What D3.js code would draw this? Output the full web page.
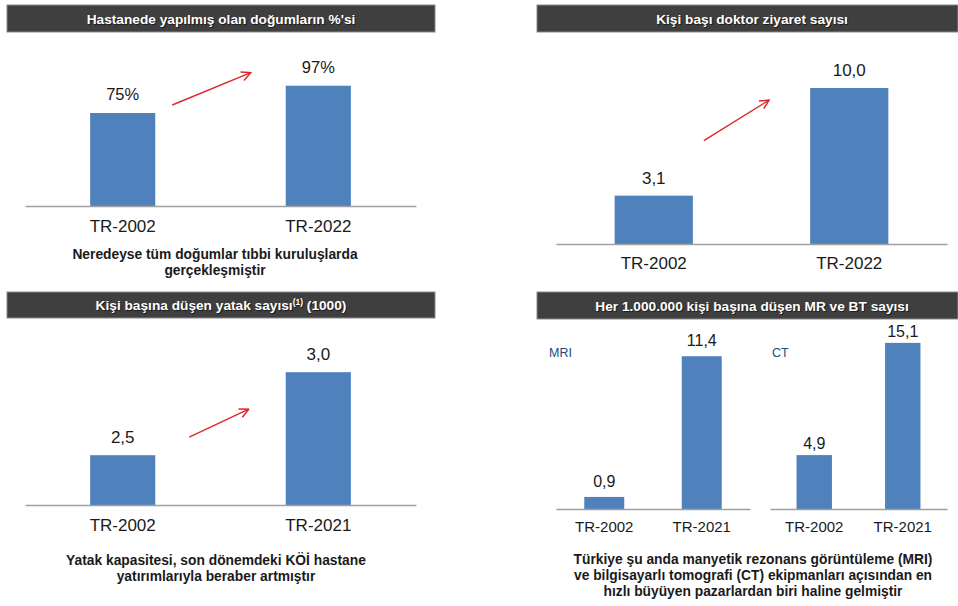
<!DOCTYPE html>
<html>
<head>
<meta charset="utf-8">
<script src="https://cdn.jsdelivr.net/npm/d3@7"></script>
<style>
  html, body { margin: 0; padding: 0; background: #fff; }
  svg { display: block; font-family: "Liberation Sans", Arial, sans-serif; }
</style>
</head>
<body>
<svg id="chart" width="958" height="606"></svg>
<script>
// ---- data ----
const birthCats = ["TR-2002", "TR-2022"];
const birthValues = [75, 97];

const visitCats = ["TR-2002", "TR-2022"];
const visitValues = [3.1, 10.0];

const bedCats = ["TR-2002", "TR-2021"];
const bedValues = [2.5, 3.0];

const scanCats = ["TR-2002", "TR-2021"];
const mriValues = [0.9, 11.4];
const ctValues = [4.9, 15.1];

const titles = [
  "Hastanede yapılmış olan doğumların %'si",
  "Kişi başı doktor ziyaret sayısı",
  "Kişi başına düşen yatak sayısı",
  "Her 1.000.000 kişi başına düşen MR ve BT sayısı"
];
const notes = {
  birth: ["Neredeyse tüm doğumlar tıbbi kuruluşlarda", "gerçekleşmiştir"],
  bed: ["Yatak kapasitesi, son dönemdeki KÖİ hastane", "yatırımlarıyla beraber artmıştır"],
  scan: ["Türkiye şu anda manyetik rezonans görüntüleme (MRI)",
         "ve bilgisayarlı tomografi (CT) ekipmanları açısından en",
         "hızlı büyüyen pazarlardan biri haline gelmiştir"]
};

// ---- styling ----
const BAR = "#4f81bd";
const HEAD = "#3f3f3f";
const INK = "#1a1a1a";
const RED = "#e0262b";

const tr = d3.formatLocale({ decimal: ",", thousands: ".", grouping: [3], currency: ["", " TL"] });
const fmt1 = tr.format(".1f");
const pct = v => v + "%";

const svg = d3.select("#chart");

svg.append("defs").append("marker")
  .attr("id", "arrowhead")
  .attr("viewBox", "0 0 12 12")
  .attr("refX", 11).attr("refY", 6)
  .attr("markerWidth", 11).attr("markerHeight", 11)
  .attr("markerUnits", "userSpaceOnUse")
  .attr("orient", "auto")
  .append("path")
  .attr("d", "M1,1 L11,6 L1,11")
  .attr("fill", "none")
  .attr("stroke", RED)
  .attr("stroke-width", 1.6);

// header bar with centred title
function header(x0, x1, y0, y1, cx, baseline, text, sup, rest) {
  svg.append("rect")
    .attr("x", x0).attr("y", y0)
    .attr("width", x1 - x0).attr("height", y1 - y0)
    .attr("fill", HEAD).attr("stroke", "#8a8a8a").attr("stroke-width", 1);
  const t = svg.append("text")
    .attr("x", cx).attr("y", baseline)
    .attr("text-anchor", "middle")
    .attr("fill", "#fff")
    .attr("font-weight", "bold")
    .attr("font-size", 13.7)
    .style("text-shadow", "1px 1px 1px rgba(0,0,0,0.6)");
  t.append("tspan").text(text);
  if (sup) {
    t.append("tspan").attr("font-size", 8.5).attr("dy", -5).text(sup);
    t.append("tspan").attr("dy", 5).text(rest);
  }
}

function note(cx, baseline, lines) {
  svg.append("text")
    .attr("text-anchor", "middle")
    .attr("font-weight", "bold")
    .attr("font-size", 13.8)
    .attr("fill", INK)
    .selectAll("tspan").data(lines).join("tspan")
    .attr("x", cx)
    .attr("y", (d, i) => baseline + i * 16)
    .text(d => d);
}

// one small bar chart
function bars(cfg) {
  const x = d3.scaleBand().domain(cfg.cats)
    .range(cfg.xRange).paddingInner(cfg.pi).paddingOuter(cfg.po);
  const y = d3.scaleLinear().domain(cfg.yDomain).range(cfg.yRange);
  const g = svg.append("g");
  const data = cfg.cats.map((c, i) => ({ c, v: cfg.values[i] }));

  g.selectAll("rect").data(data).join("rect")
    .attr("x", d => x(d.c))
    .attr("y", d => y(d.v))
    .attr("width", x.bandwidth())
    .attr("height", d => y(cfg.yDomain[0]) - y(d.v))
    .attr("fill", BAR);

  g.selectAll("text.val").data(data).join("text")
    .attr("class", "val")
    .attr("x", d => x(d.c) + x.bandwidth() / 2)
    .attr("y", d => y(d.v) - cfg.labelGap)
    .attr("text-anchor", "middle")
    .attr("font-size", cfg.valSize)
    .attr("fill", INK)
    .text(d => cfg.format(d.v));

  const axis = g.append("g")
    .attr("transform", `translate(0,${y(cfg.yDomain[0])})`)
    .call(d3.axisBottom(x).tickSize(0).tickSizeOuter(0).tickPadding(cfg.tickPad));
  axis.select(".domain").attr("stroke", "#a0a0a0").attr("stroke-width", 1.3);
  axis.selectAll("text")
    .attr("font-size", cfg.catSize)
    .attr("font-family", "Liberation Sans, Arial, sans-serif")
    .attr("fill", INK);

  if (cfg.arrow) {
    const a = cfg.arrow;
    const b0 = x(cfg.cats[0]) + x.bandwidth();
    const b1 = x(cfg.cats[1]);
    g.append("line")
      .attr("x1", b0 + a.dx0).attr("y1", y(cfg.values[0]) + a.dy0)
      .attr("x2", b1 + a.dx1).attr("y2", y(cfg.values[1]) + a.dy1)
      .attr("stroke", RED).attr("stroke-width", 1.4)
      .attr("marker-end", "url(#arrowhead)");
  }
  return { x, y };
}

// ---- panel: births in hospitals ----
header(7, 435, 5, 32, 221, 24, titles[0]);
bars({
  cats: birthCats, values: birthValues, format: pct,
  xRange: [25, 416], pi: 0.667, po: 0.333,
  yDomain: [0, 100], yRange: [206, 82],
  labelGap: 13, valSize: 16.5, catSize: 17, tickPad: 14,
  arrow: { dx0: 17, dy0: -8, dx1: -35, dy1: -13 }
});
note(215, 259, notes.birth);

// ---- panel: doctor visits per person ----
header(537, 958, 5, 32, 752, 24, titles[1]);
bars({
  cats: visitCats, values: visitValues, format: fmt1,
  xRange: [556, 947], pi: 0.6, po: 0.3,
  yDomain: [0, 10], yRange: [244, 88],
  labelGap: 12, valSize: 17, catSize: 17, tickPad: 13,
  arrow: { dx0: 11, dy0: -55, dx1: -41, dy1: 12 }
});

// ---- panel: beds per 1000 ----
header(7, 435, 292, 318, 221, 309.5, titles[2], "(1)", "  (1000)");
bars({
  cats: bedCats, values: bedValues, format: fmt1,
  xRange: [25, 416], pi: 0.667, po: 0.333,
  yDomain: [2.2, 3.2], yRange: [505, 339],
  labelGap: 12, valSize: 17, catSize: 17, tickPad: 14,
  arrow: { dx0: 34, dy0: -18, dx1: -37, dy1: 37 }
});
note(216, 565, notes.bed);

// ---- panel: MRI and CT units per million ----
header(537, 958, 292, 319, 752, 310.5, titles[3]);
svg.append("text").attr("x", 549).attr("y", 357)
  .attr("font-size", 12.5).attr("fill", "#1f497d").text("MRI");
svg.append("text").attr("x", 772).attr("y", 357)
  .attr("font-size", 12.5).attr("fill", "#1f497d").text("CT");
bars({
  cats: scanCats, values: mriValues, format: fmt1,
  xRange: [556, 750], pi: 0.59, po: 0.29,
  yDomain: [0, 12], yRange: [509, 348.2],
  labelGap: 10, valSize: 16, catSize: 15, tickPad: 12
});
bars({
  cats: scanCats, values: ctValues, format: fmt1,
  xRange: [770, 947], pi: 0.6, po: 0.3,
  yDomain: [0, 15], yRange: [509, 344],
  labelGap: 6, valSize: 16, catSize: 15, tickPad: 12
});
note(753, 564, notes.scan);
</script>
</body>
</html>
